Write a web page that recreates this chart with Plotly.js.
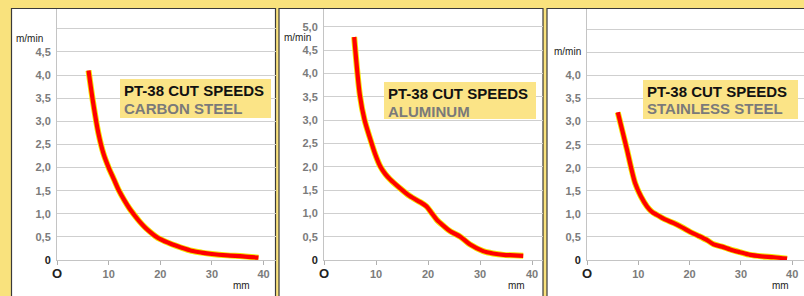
<!DOCTYPE html>
<html>
<head>
<meta charset="utf-8">
<script src="https://cdn.plot.ly/plotly-3.0.1.min.js"></script>
<style>html,body{margin:0;padding:0;background:#f9e27d;}#chart{width:804px;height:296px;}</style>
</head>
<body>
<div id="chart"></div>
<script>
// ---- data ----
const carbonMm    = [6.1, 7, 8, 9, 10, 11, 12, 13, 14, 15, 16, 17, 18, 19, 20, 22, 24, 26, 28, 30, 33, 36, 39];
const carbonSpeed = [4.1, 3.4, 2.75, 2.3, 2.0, 1.75, 1.5, 1.3, 1.12, 0.97, 0.83, 0.71, 0.61, 0.52, 0.45, 0.35, 0.27, 0.2, 0.16, 0.13, 0.1, 0.08, 0.05];

const aluminumMm    = [5.8, 6.9, 7.8, 8.9, 9.8, 10.8, 11.8, 12.7, 14.5, 16.5, 18.5, 19.7, 20.6, 21.7, 23, 24.2, 26.2, 28.1, 30.6, 32.5, 34.5, 36.5, 38.3];
const aluminumSpeed = [4.78, 3.53, 3.0, 2.59, 2.28, 2.01, 1.84, 1.73, 1.55, 1.37, 1.24, 1.15, 1.02, 0.86, 0.73, 0.62, 0.5, 0.33, 0.19, 0.14, 0.11, 0.1, 0.09];

const stainlessMm    = [6.0, 7.0, 7.8, 8.6, 9.4, 10.5, 11.7, 12.6, 13.6, 15.2, 16.9, 18.5, 20.1, 21.8, 23.4, 24.7, 26.3, 27.9, 29.8, 31.8, 34, 36.4, 39];
const stainlessSpeed = [3.2, 2.75, 2.39, 2.0, 1.66, 1.38, 1.16, 1.05, 0.98, 0.88, 0.8, 0.71, 0.61, 0.52, 0.43, 0.34, 0.29, 0.23, 0.17, 0.11, 0.08, 0.06, 0.03];

const xTickVals = [0, 10, 20, 30, 40];
const xTickText = ['O', '10', '20', '30', '40'];
const yTickVals = [0, 0.5, 1, 1.5, 2, 2.5, 3, 3.5, 4, 4.5, 5];
const yTickTextCarbon    = ['0', '0,5', '1,0', '1,5', '2,0', '2,5', '3,0', '3,5', '4,0', '4,5', ''];
const yTickTextAluminum  = ['0', '0,5', '1,0', '1,5', '2,0', '2,5', '3,0', '3,5', '4,0', '4,5', '5,0'];
const yTickTextStainless = ['0', '0,5', '1,0', '1,5', '2,0', '2,5', '3,0', '3,5', '4,0', '', ''];

const chartTitle = 'PT-38 CUT SPEEDS';
const materials = ['CARBON STEEL', 'ALUMINUM', 'STAINLESS STEEL'];
const yUnit = 'm/min';
const xUnit = 'mm';

// ---- layout helpers (pixels -> paper) ----
const W = 804, H = 296;
const px = v => v / W;
const py = v => 1 - v / H;

const dark = '#222';
const fmtX = t => t.map((s, i) => i === 0 ? '<span style="color:' + dark + ';font-size:13px">' + s + '</span>' : s);
const fmtY = t => t.map((s, i) => i === 0 ? '<span style="color:' + dark + '">' + s + '</span>' : s);

const series = [
  {x: carbonMm, y: carbonSpeed, ax: ''},
  {x: aluminumMm, y: aluminumSpeed, ax: '2'},
  {x: stainlessMm, y: stainlessSpeed, ax: '3'}
];

const traces = [];
series.forEach(s => {
  traces.push({x: s.x, y: s.y, xaxis: 'x' + s.ax, yaxis: 'y' + s.ax, mode: 'lines',
    line: {color: '#f2e200', width: 6, shape: 'spline', smoothing: 0.8}, hoverinfo: 'skip', showlegend: false});
  traces.push({x: s.x, y: s.y, xaxis: 'x' + s.ax, yaxis: 'y' + s.ax, mode: 'lines',
    line: {color: '#ff0000', width: 4.2, shape: 'spline', smoothing: 0.8}, showlegend: false});
});

const panels = [
  {left: 11.5, right: 275.5, x0: 57, xR: 42.3, yR: 5.43, yText: yTickTextCarbon,
   box: [120, 79, 271, 118], unitY: 38, unitX: 45, mmX: 35.7},
  {left: 279, right: 543, x0: 324, xR: 42.1, yR: 5.38, yText: yTickTextAluminum,
   box: [384, 82, 536, 119], unitY: 37, unitX: 313, mmX: 37.1},
  {left: 547, right: 812, x0: 587, xR: 42.3, yR: 5.44, yText: yTickTextStainless,
   box: [643, 80, 798, 119], unitY: 52, unitX: 583, mmX: 37.8}
];

const tickFont = {family: 'Liberation Sans, Arial, sans-serif', size: 11, color: '#7b7b7b', weight: 'bold'};

const layout = {
  width: W, height: H,
  margin: {l: 0, r: 0, t: 0, b: 0, pad: 0},
  paper_bgcolor: '#f9e27d',
  plot_bgcolor: 'rgba(0,0,0,0)',
  showlegend: false,
  shapes: [],
  annotations: []
};

panels.forEach((p, i) => {
  const sfx = i === 0 ? '' : String(i + 1);
  const right = Math.min(p.right, W);
  layout['xaxis' + sfx] = {
    domain: [px(p.x0), px(right)], range: [0, p.xR], anchor: 'y' + sfx,
    tickvals: xTickVals, ticktext: fmtX(xTickText), tickfont: tickFont,
    showgrid: false, zeroline: false, showline: true, linecolor: '#c4c4c4', linewidth: 1,
    ticks: 'outside', ticklen: 4, tickcolor: '#b0b0b0', fixedrange: true
  };
  layout['yaxis' + sfx] = {
    domain: [py(260), py(9)], range: [0, p.yR], anchor: 'x' + sfx,
    tickvals: yTickVals, ticktext: fmtY(p.yText), tickfont: tickFont,
    showgrid: true, gridcolor: '#cfcfcf', gridwidth: 1, zeroline: false,
    showline: true, linecolor: '#c4c4c4', linewidth: 1, ticks: '', ticklabelstandoff: 3, fixedrange: true
  };
  // white panel with dark frame
  layout.shapes.push({type: 'rect', xref: 'paper', yref: 'paper', layer: 'below',
    x0: px(p.left), x1: px(p.right), y0: py(8.5), y1: py(310),
    fillcolor: '#ffffff', line: {color: '#3a3a3a', width: 1.2}});
  // label box
  layout.shapes.push({type: 'rect', xref: 'paper', yref: 'paper', layer: 'above',
    x0: px(p.box[0]), x1: px(p.box[2]), y0: py(p.box[3]), y1: py(p.box[1]),
    fillcolor: '#fbe487', line: {width: 0}});
  layout.annotations.push({xref: 'paper', yref: 'paper', x: px(p.box[0] + 3), y: py(p.box[1] + 11),
    xanchor: 'left', yanchor: 'middle', showarrow: false, text: chartTitle, borderpad: 0,
    font: {family: 'Liberation Sans, Arial, sans-serif', size: 15, color: '#111', weight: 'bold'}});
  layout.annotations.push({xref: 'paper', yref: 'paper', x: px(p.box[0] + 3), y: py(p.box[1] + 29),
    xanchor: 'left', yanchor: 'middle', showarrow: false, text: materials[i], borderpad: 0,
    font: {family: 'Liberation Sans, Arial, sans-serif', size: 15, color: '#7a7a7a', weight: 'bold'}});
  // units
  layout.annotations.push({xref: 'paper', yref: 'paper', x: px(p.unitX), y: py(p.unitY),
    xanchor: 'right', yanchor: 'middle', showarrow: false, text: yUnit,
    font: {family: 'Liberation Sans Narrow, Liberation Sans, Arial, sans-serif', size: 10, color: '#222'}});
  layout.annotations.push({xref: 'x' + sfx, yref: 'paper', x: p.mmX, y: py(285),
    xanchor: 'center', yanchor: 'middle', showarrow: false, text: xUnit,
    font: {family: 'Liberation Sans, Arial, sans-serif', size: 10, color: '#222'}});
});

Plotly.newPlot('chart', traces, layout, {staticPlot: true, displayModeBar: false});
</script>
</body>
</html>
